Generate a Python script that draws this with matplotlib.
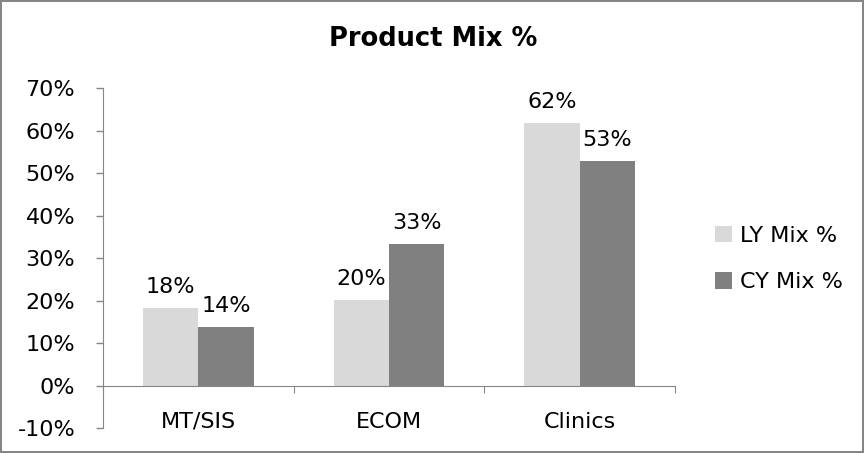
import matplotlib
matplotlib.use("Agg")
import matplotlib.pyplot as plt
from matplotlib.patches import Patch
from matplotlib.ticker import FixedLocator, FuncFormatter
import numpy as np

categories = ["MT/SIS", "ECOM", "Clinics"]
ly_mix = [18.2, 20.1, 61.7]
cy_mix = [13.8, 33.3, 52.8]
series_names = ["LY Mix %", "CY Mix %"]
colors = ["#D9D9D9", "#808080"]
axis_gray = "#868686"

plt.rcParams["font.family"] = ["DejaVu Sans"]
fs = 16

fig = plt.figure(figsize=(8.64, 4.53), dpi=100)
fig.patch.set_edgecolor(axis_gray)
fig.patch.set_linewidth(1.5)
ax = fig.add_axes([103 / 864, 1 - 428 / 453, (675 - 103) / 864, (428 - 88) / 453])

x = np.arange(len(categories))
w = 0.29
bars_ly = ax.bar(x - w / 2, ly_mix, w, color=colors[0])
bars_cy = ax.bar(x + w / 2, cy_mix, w, color=colors[1])

for bars in (bars_ly, bars_cy):
    for b in bars:
        h = b.get_height()
        ax.annotate(f"{h:.0f}%", (b.get_x() + b.get_width() / 2, h),
                    xytext=(0, 8), textcoords="offset points",
                    ha="center", va="bottom", fontsize=fs)

ax.set_xlim(-0.5, 2.5)
ax.set_ylim(-10, 70)
ax.set_yticks(np.arange(-10, 71, 10))
ax.yaxis.set_major_formatter(FuncFormatter(lambda v, p: f"{v:.0f}%"))
ax.tick_params(axis="y", labelsize=fs, color=axis_gray, length=5, width=1, pad=15)

# x axis sits at zero, ticks between categories, labels at centers
ax.spines["bottom"].set_position(("data", 0))
ax.spines["bottom"].set_color(axis_gray)
ax.spines["left"].set_color(axis_gray)
ax.spines["top"].set_visible(False)
ax.spines["right"].set_visible(False)
ax.xaxis.set_major_locator(FixedLocator([-0.5, 0.5, 1.5, 2.5]))
ax.xaxis.set_major_formatter(FuncFormatter(lambda v, p: ""))
ax.xaxis.set_minor_locator(FixedLocator(x))
ax.set_xticklabels(categories, minor=True)
ax.tick_params(axis="x", which="major", color=axis_gray, length=5, direction="out")
ax.tick_params(axis="x", which="minor", length=0, labelsize=fs, pad=19)

fig.text(433 / 864, 1 - 39 / 453, "Product Mix %", ha="center", va="center",
         fontsize=18.5, fontweight="bold")

handles = [Patch(facecolor=c, edgecolor="none") for c in colors]
fig.legend(handles, series_names, loc="center left",
           bbox_to_anchor=(695 / 864, 1 - 259 / 453), frameon=False,
           fontsize=fs, handlelength=0.75, handleheight=0.75,
           handletextpad=0.36, labelspacing=1.2)

fig.savefig("out.png", dpi=100)
